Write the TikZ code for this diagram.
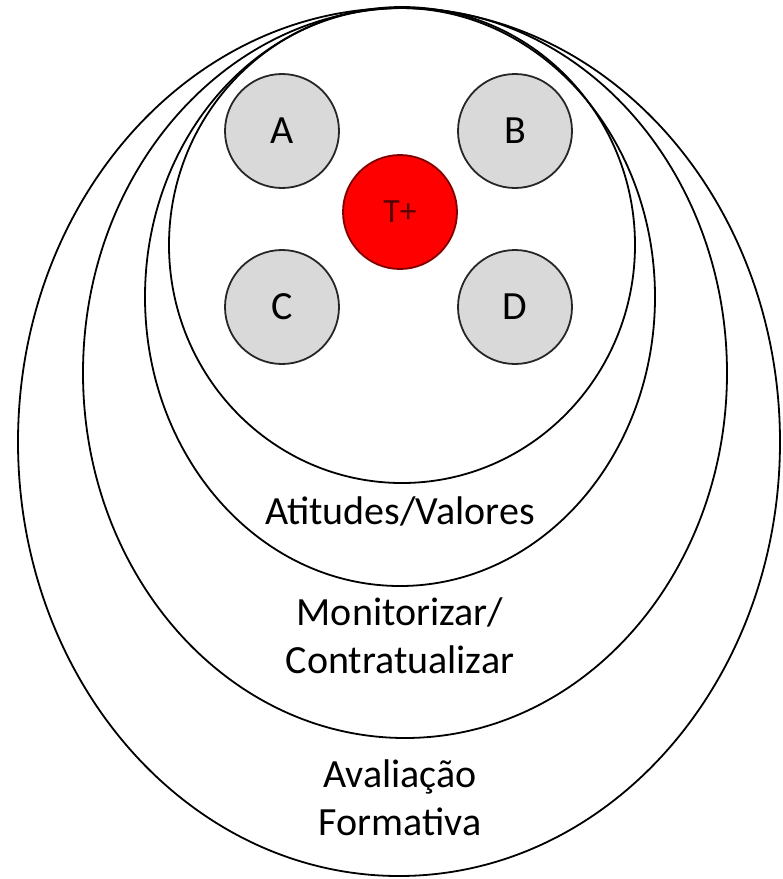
\documentclass[tikz,border=0pt]{standalone}
\usepackage{fontspec}
\setmainfont{Carlito}
\usetikzlibrary{shapes.geometric}

\begin{document}
\begin{tikzpicture}[x=1pt, y=-1pt,
    ring/.style={draw, ellipse, line width=1.8pt, inner sep=0},
    disc/.style={draw=black!85, circle, fill=gray!30, line width=1.8pt,
      minimum size=114pt, inner sep=0, font=\fontsize{40}{48}\selectfont},
    hot/.style={disc, fill=red, draw=red!50!black, text=red!35!black,
      font=\fontsize{34}{40}\selectfont},
    tag/.style={align=center, font=\fontsize{40}{48}\selectfont}]
  \useasboundingbox (0,0) rectangle (783,879);
  % nested rings
  \node[ring, minimum width=762pt, minimum height=868pt] (formativa) at (399,442) {};
  \node[ring, minimum width=644pt, minimum height=730pt] (monitor) at (405,373) {};
  \node[ring, minimum width=510pt, minimum height=578pt] (atitudes) at (400,297) {};
  \node[ring, minimum width=466pt, minimum height=476pt] (core) at (402,245) {};
  % discs
  \node[disc] (a) at (282,131) {A};
  \node[disc] (b) at (515,131) {B};
  \node[disc] (c) at (282,307) {C};
  \node[disc] (d) at (515,307) {D};
  \node[hot] (tplus) at (400,212) {T+};
  % labels
  \node[tag] (lblatitudes) at (400,511) {Atitudes/Valores};
  \node[tag] (lblmonitor) at (400,636) {Monitorizar/\\Contratualizar};
  \node[tag] (lblformativa) at (400,798) {Avaliação\\Formativa};
\end{tikzpicture}
\end{document}
